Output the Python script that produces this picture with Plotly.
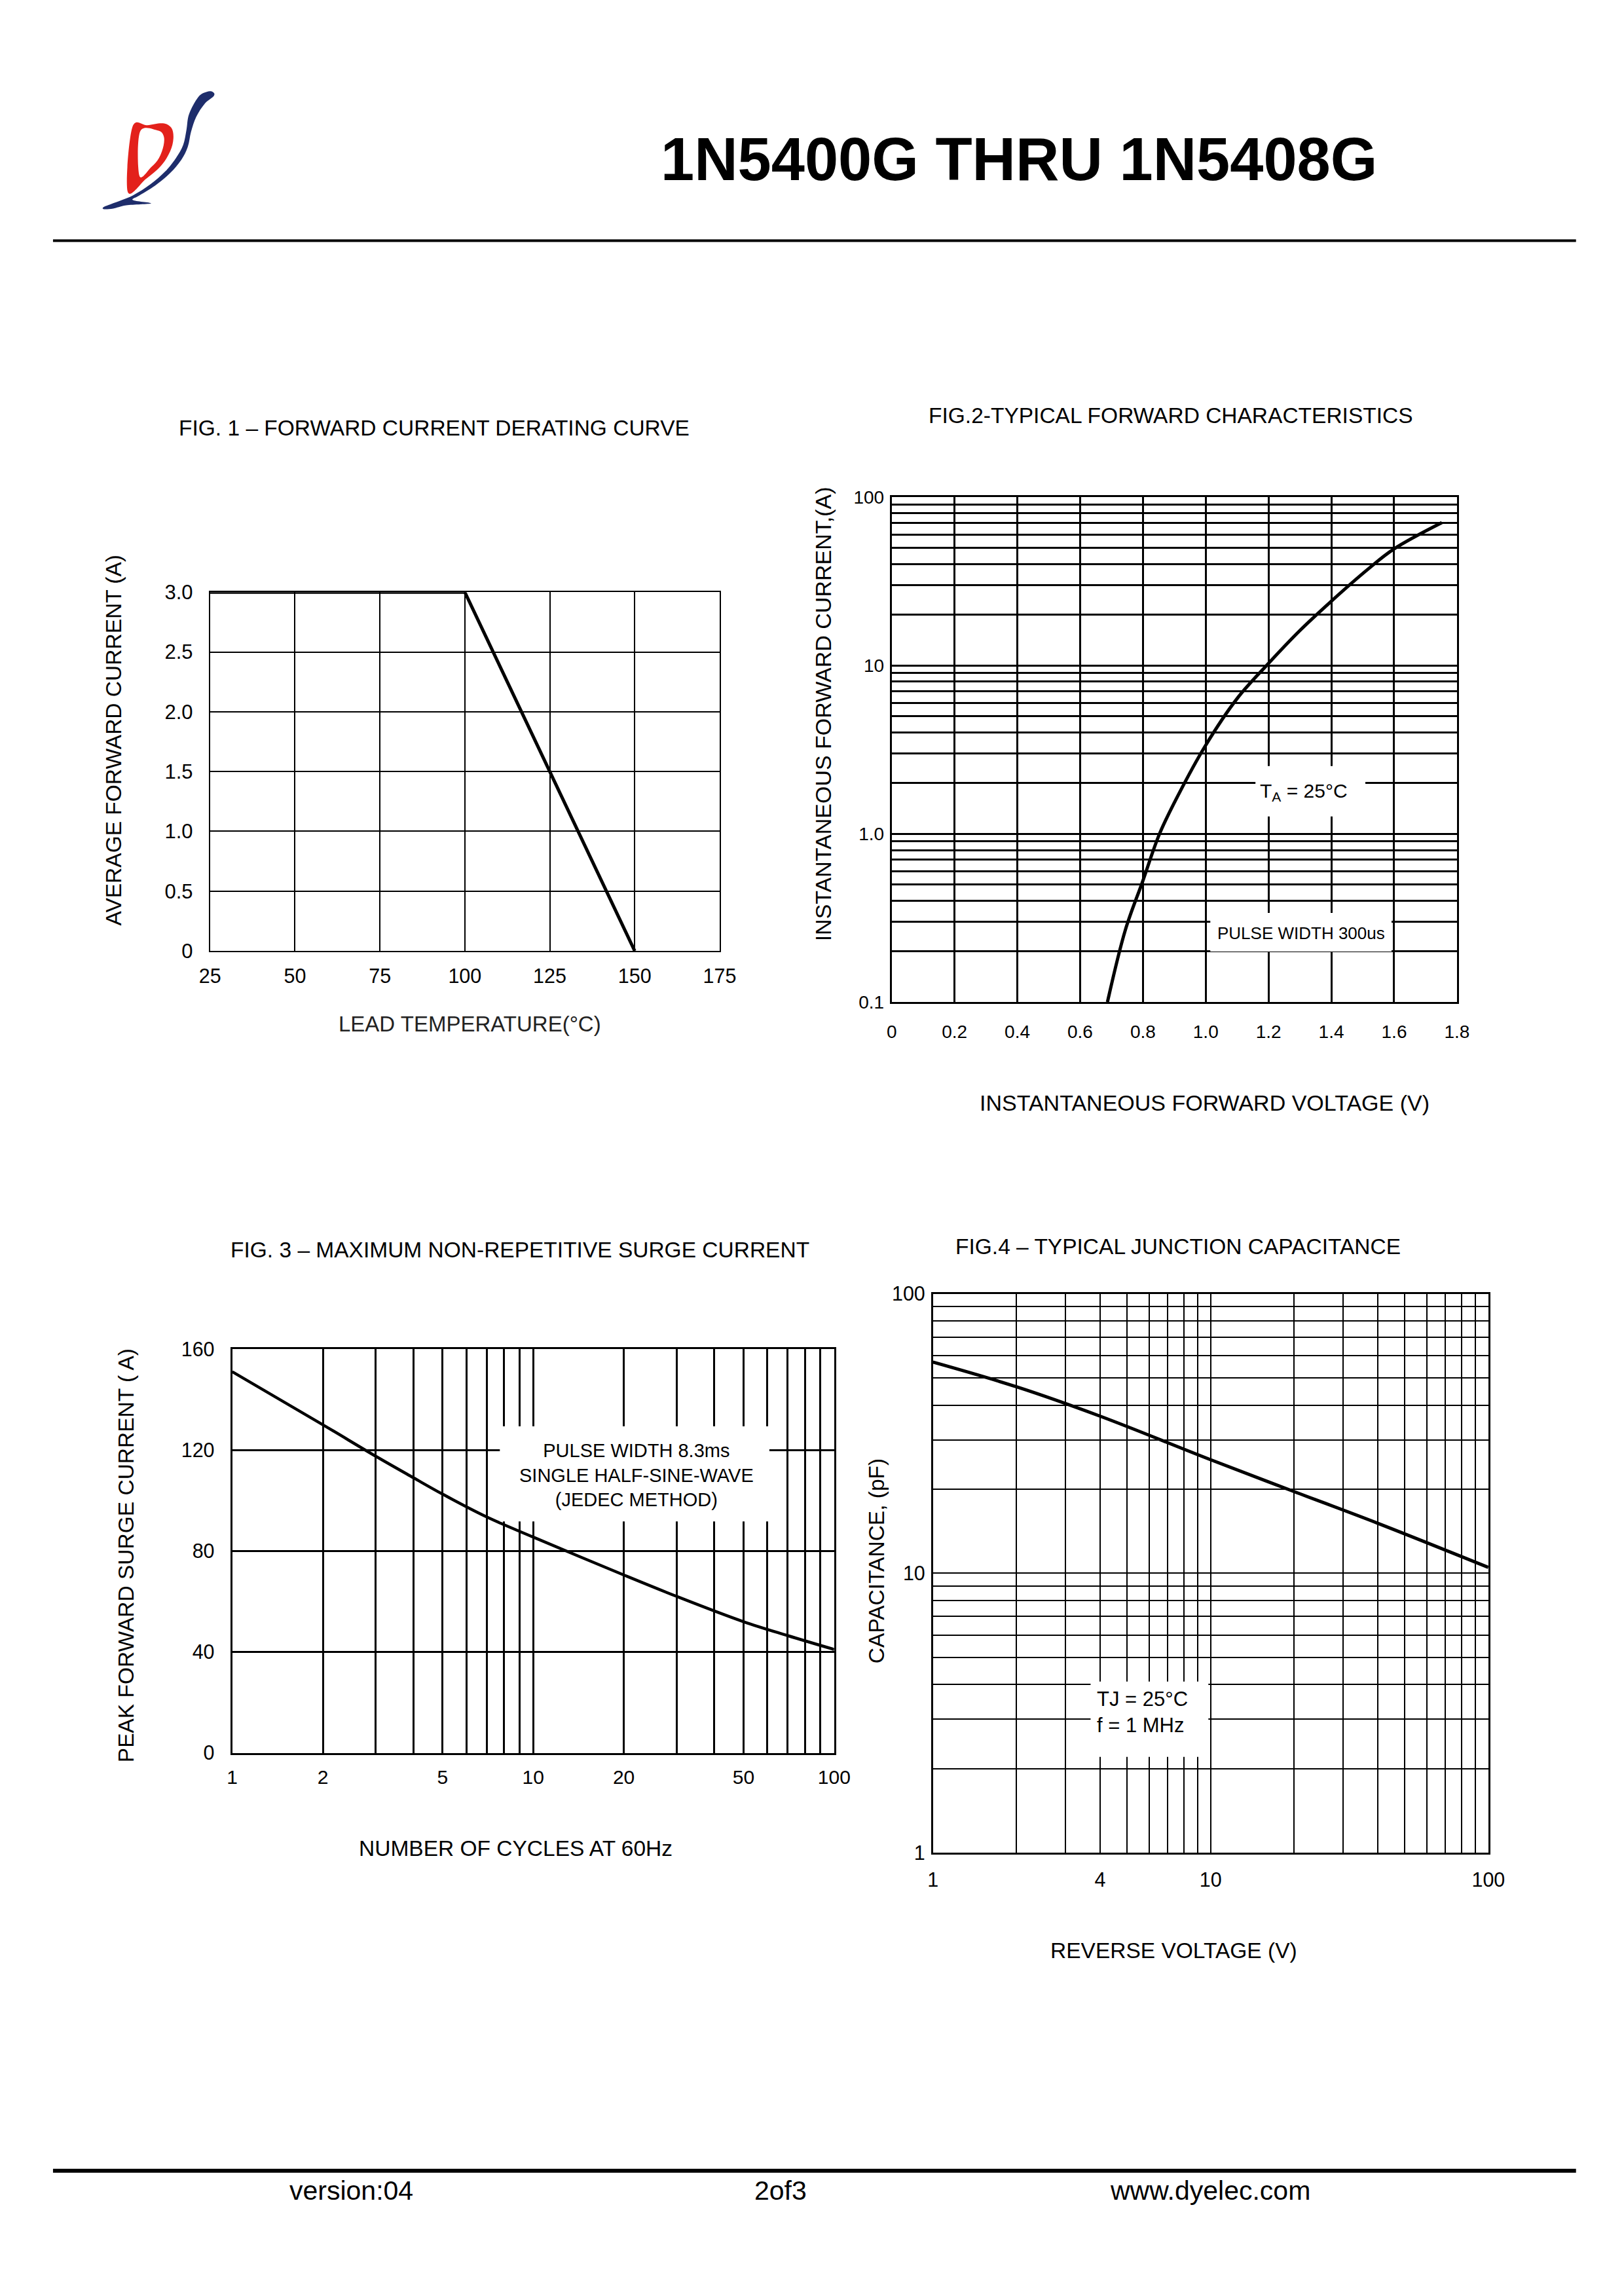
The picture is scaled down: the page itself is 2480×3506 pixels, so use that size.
import plotly.graph_objects as go

W, H = 2480, 3506
FONT = "Liberation Sans, Arial, sans-serif"

# ---------------- data ----------------
# Fig 1 - forward current derating curve
fig1_temp = [25, 100, 150]
fig1_current = [3.0, 3.0, 0.0]
fig1_xticks = [25, 50, 75, 100, 125, 150, 175]
fig1_yticks = [0, 0.5, 1.0, 1.5, 2.0, 2.5, 3.0]
fig1_yticktext = ["0", "0.5", "1.0", "1.5", "2.0", "2.5", "3.0"]

# Fig 2 - typical forward characteristics
fig2_voltage = [0.687, 0.744, 0.799, 0.853, 0.914, 0.997, 1.100, 1.196, 1.301, 1.397, 1.516, 1.599, 1.752]
fig2_current = [0.1, 0.268, 0.52, 1.0, 1.72, 3.29, 6.36, 10.1, 16.2, 23.8, 37.2, 49.1, 70.5]
fig2_xticks = [0, 0.2, 0.4, 0.6, 0.8, 1.0, 1.2, 1.4, 1.6, 1.8]
fig2_xticktext = ["0", "0.2", "0.4", "0.6", "0.8", "1.0", "1.2", "1.4", "1.6", "1.8"]
fig2_yticks = [0.1, 0.2, 0.3, 0.4, 0.5, 0.6, 0.7, 0.8, 0.9,
               1, 2, 3, 4, 5, 6, 7, 8, 9,
               10, 20, 30, 40, 50, 60, 70, 80, 90, 100]
fig2_yticktext = ["0.1", "", "", "", "", "", "", "", "",
                  "1.0", "", "", "", "", "", "", "", "",
                  "10", "", "", "", "", "", "", "", "", "100"]

# Fig 3 - maximum non-repetitive surge current
fig3_cycles = [1, 2, 3, 4, 5, 7, 10, 20, 30, 50, 70, 100]
fig3_surge = [151, 130, 117.5, 109, 102.5, 93.5, 85.5, 70.5, 62, 52, 46.5, 41]
fig3_xticks = [1, 2, 3, 4, 5, 6, 7, 8, 9, 10, 20, 30, 40, 50, 60, 70, 80, 90, 100]
fig3_xticktext = ["1", "2", "", "", "5", "", "", "", "", "10", "20", "", "", "50", "", "", "", "", "100"]
fig3_yticks = [0, 40, 80, 120, 160]
fig3_yticktext = ["0", "40", "80", "120", "160"]

# Fig 4 - typical junction capacitance
fig4_voltage = [1, 2, 4, 10, 20, 40, 100]
fig4_cap = [57, 46.5, 36.5, 25.5, 19.6, 15.1, 10.5]
fig4_xticks = [1, 2, 3, 4, 5, 6, 7, 8, 9, 10, 20, 30, 40, 50, 60, 70, 80, 90, 100]
fig4_xticktext = ["1", "", "", "4", "", "", "", "", "", "10", "", "", "", "", "", "", "", "", "100"]
fig4_yticks = [1, 2, 3, 4, 5, 6, 7, 8, 9, 10, 20, 30, 40, 50, 60, 70, 80, 90, 100]
fig4_yticktext = ["1", "", "", "", "", "", "", "", "", "10", "", "", "", "", "", "", "", "", "100"]


# ---------------- helpers ----------------
# page placement calibration (rendered page is inset/scaled slightly)
OX, SX = 22.0, 0.984
OY, SY = 24.0, 0.9886


def px(x):
    return (x - OX) / (SX * W)


def py(y):
    return 1 - (y - OY) / (SY * H)


def dom_x(a, b):
    return [px(a), px(b)]


def dom_y(top, bottom):
    return [py(bottom), py(top)]


def axis(lw, gw, fs, standoff, **kw):
    d = dict(showline=True, linecolor="black", linewidth=lw, mirror=True,
             showgrid=True, gridcolor="black", gridwidth=gw, zeroline=False,
             ticks="", tickfont=dict(family=FONT, size=fs, color="black"),
             ticklabelstandoff=standoff, fixedrange=True)
    d.update(kw)
    return d


def text(x, y, s, size=33.5, angle=0, color="black", xanchor="center", align="center"):
    return dict(x=px(x), y=py(y), xref="paper", yref="paper", text=s, showarrow=False,
                textangle=angle, xanchor=xanchor, yanchor="middle", align=align,
                font=dict(family=FONT, size=size, color=color))


def box(x0, y0, x1, y1):
    return dict(type="rect", xref="paper", yref="paper", x0=px(x0), x1=px(x1),
                y0=py(y1), y1=py(y0), fillcolor="white", line=dict(width=0), layer="above")


def smooth_path(pts):
    # Catmull-Rom -> cubic bezier, closed, in paper coordinates
    n = len(pts)
    out = "M%.5f,%.5f" % (px(pts[0][0]), py(pts[0][1]))
    for i in range(n):
        p0 = pts[(i - 1) % n]
        p1 = pts[i]
        p2 = pts[(i + 1) % n]
        p3 = pts[(i + 2) % n]
        c1 = (p1[0] + (p2[0] - p0[0]) / 6, p1[1] + (p2[1] - p0[1]) / 6)
        c2 = (p2[0] - (p3[0] - p1[0]) / 6, p2[1] - (p3[1] - p1[1]) / 6)
        out += " C%.5f,%.5f %.5f,%.5f %.5f,%.5f" % (px(c1[0]), py(c1[1]), px(c2[0]), py(c2[1]), px(p2[0]), py(p2[1]))
    return out + " Z"


# ---------------- figure ----------------
fig = go.Figure()
line_style = dict(color="black", width=5)
fig.add_trace(go.Scatter(x=fig1_temp, y=fig1_current, mode="lines", line=dict(line_style, shape="linear"),
                         xaxis="x", yaxis="y", showlegend=False, hoverinfo="skip"))
fig.add_trace(go.Scatter(x=fig2_voltage, y=fig2_current, mode="lines", line=dict(line_style, shape="spline"),
                         xaxis="x2", yaxis="y2", showlegend=False, hoverinfo="skip"))
fig.add_trace(go.Scatter(x=fig3_cycles, y=fig3_surge, mode="lines", line=dict(line_style, shape="spline", width=4.5),
                         xaxis="x3", yaxis="y3", showlegend=False, hoverinfo="skip"))
fig.add_trace(go.Scatter(x=fig4_voltage, y=fig4_cap, mode="lines", line=dict(line_style, shape="spline"),
                         xaxis="x4", yaxis="y4", showlegend=False, hoverinfo="skip"))

layout = dict(
    width=W, height=H, autosize=False,
    margin=dict(l=0, r=0, t=0, b=0),
    paper_bgcolor="white", plot_bgcolor="white",
    showlegend=False,
    # Fig 1
    xaxis=axis(2, 2, 30.5, 10, domain=dom_x(318, 1097), range=[25, 175],
               tickvals=fig1_xticks, anchor="y"),
    yaxis=axis(2, 2, 31, 18, domain=dom_y(902, 1449), range=[0, 3.0],
               tickvals=fig1_yticks, ticktext=fig1_yticktext, anchor="x"),
    # Fig 2
    xaxis2=axis(3, 3, 28, 18, domain=dom_x(1360, 2224), range=[0, 1.8],
                tickvals=fig2_xticks, ticktext=fig2_xticktext, anchor="y2"),
    yaxis2=axis(3, 3, 28, 3, domain=dom_y(757, 1527), type="log", range=[-1, 2],
                tickvals=fig2_yticks, ticktext=fig2_yticktext, anchor="x2"),
    # Fig 3
    xaxis3=axis(3, 2.8, 30, 8, domain=dom_x(352, 1272), type="log", range=[0, 2],
                tickvals=fig3_xticks, ticktext=fig3_xticktext, anchor="y3"),
    yaxis3=axis(3, 2.8, 30.5, 18, domain=dom_y(2056, 2672), range=[0, 160],
                tickvals=fig3_yticks, ticktext=fig3_yticktext, anchor="x3"),
    # Fig 4
    xaxis4=axis(2.5, 2.4, 30.5, 13, domain=dom_x(1423, 2272), type="log", range=[0, 2],
                tickvals=fig4_xticks, ticktext=fig4_xticktext, anchor="y4"),
    yaxis4=axis(2.5, 2.4, 30.5, 3, domain=dom_y(1972, 2824), type="log", range=[0, 2],
                tickvals=fig4_yticks, ticktext=fig4_yticktext, anchor="x4"),
)
fig.update_layout(**layout)

# ---------------- logo ----------------
d_outer = [(199, 194), (222, 190), (246, 187), (259, 194), (262, 210), (257, 230), (243, 252), (220, 272), (192, 291)]
d_inner = [(211, 200), (238, 198), (247, 206), (247, 221), (240, 240), (228, 254), (210, 267)]
d_path = smooth_path(d_outer) + " " + smooth_path(d_inner)

swoosh = [(300, 147), (313, 139), (322, 139), (324, 145), (310, 157), (297, 177), (289, 200), (284, 223),
          (274, 243), (257, 263), (234, 282), (210, 297), (200, 304), (228, 309), (190, 312), (170, 317),
          (156, 318), (155, 315), (167, 310), (200, 297), (227, 280), (250, 260), (266, 240), (277, 220),
          (282, 197), (286, 173)]

shapes = [
    dict(type="path", xref="paper", yref="paper", path=d_path, fillcolor="#E3211B",
         line=dict(width=0), fillrule="evenodd", layer="above"),
    dict(type="path", xref="paper", yref="paper", path=smooth_path(swoosh), fillcolor="#1E2D6B",
         line=dict(width=0), layer="above"),
    # header / footer rules
    dict(type="line", xref="paper", yref="paper", x0=px(78), x1=px(2406), y0=py(366), y1=py(366),
         line=dict(color="black", width=4)),
    dict(type="line", xref="paper", yref="paper", x0=px(78), x1=px(2406), y0=py(3309), y1=py(3309),
         line=dict(color="black", width=6)),
    # annotation boxes masking the grid
    box(1916, 1167, 2084, 1244),
    box(1847, 1391, 2124, 1450),
    box(761, 2174, 1173, 2319),
    box(1664, 2563, 1844, 2678),
]

annotations = [
    dict(x=px(1554), y=py(242), xref="paper", yref="paper", text="<b>1N5400G THRU 1N5408G</b>",
         showarrow=False, xanchor="center", yanchor="middle",
         font=dict(family=FONT, size=92, color="black")),
    # Fig 1
    text(661, 652, "FIG. 1 – FORWARD CURRENT DERATING CURVE"),
    text(171, 1128, "AVERAGE FORWARD CURRENT (A)", angle=-90),
    text(715, 1560, "LEAD TEMPERATURE(°C)", size=33, color="#222222"),
    # Fig 2
    text(1787, 633, "FIG.2-TYPICAL FORWARD CHARACTERISTICS"),
    text(1255, 1088, "INSTANTANEOUS FORWARD CURRENT,(A)", angle=-90, size=34),
    text(1838, 1681, "INSTANTANEOUS FORWARD VOLTAGE (V)", size=34),
    text(1990, 1207, "T<sub>A</sub> = 25°C", size=30),
    text(1986, 1422, "PULSE WIDTH 300us", size=26),
    # Fig 3
    text(792, 1905, "FIG. 3 – MAXIMUM NON-REPETITIVE SURGE CURRENT"),
    text(190, 2371, "PEAK FORWARD SURGE CURRENT ( A)", angle=-90),
    text(785, 2817, "NUMBER OF CYCLES AT 60Hz"),
    text(970, 2248, "PULSE WIDTH 8.3ms<br>SINGLE HALF-SINE-WAVE<br>(JEDEC METHOD)", size=29),
    # Fig 4
    text(1798, 1900, "FIG.4 – TYPICAL JUNCTION CAPACITANCE"),
    text(1337, 2379, "CAPACITANCE, (pF)", angle=-90),
    text(1791, 2973, "REVERSE VOLTAGE (V)"),
    text(1672, 2610, "TJ = 25°C<br>f = 1 MHz", size=31, xanchor="left", align="left"),
    # footer
    text(534, 3339, "version:04", size=41),
    text(1190, 3339, "2of3", size=41),
    text(1847, 3339, "www.dyelec.com", size=41),
]

fig.update_layout(shapes=shapes, annotations=annotations)
fig.write_html("out.html")
